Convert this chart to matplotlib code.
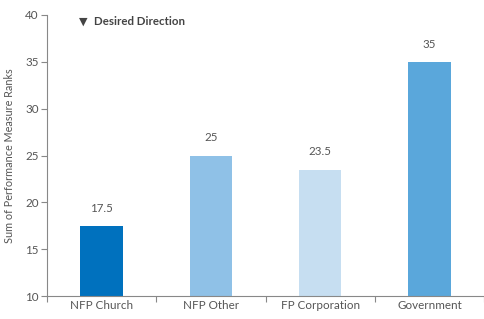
import matplotlib.pyplot as plt
import numpy as np

categories = ['NFP Church', 'NFP Other', 'FP Corporation', 'Government']
values = [17.5, 25, 23.5, 35]
value_labels = ['17.5', '25', '23.5', '35']
colors = ['#0071BE', '#8FC1E7', '#C6DEF1', '#5AA7DB']
yticks = [10, 15, 20, 25, 30, 35, 40]

plt.rcParams['font.family'] = ['Lato', 'DejaVu Sans']

fig = plt.figure(figsize=(4.85, 3.19), dpi=100)
ax = fig.add_axes([0.097, 0.072, 0.901, 0.881])

x = np.arange(len(categories))
bars = ax.bar(x, [v - 10 for v in values], bottom=10, width=0.39, color=colors)

for xi, v, lab in zip(x, values, value_labels):
    ax.text(xi, v + 1.3, lab, ha='center', va='bottom', fontsize=8.3, color='#555555')

ax.set_xlim(-0.5, len(categories) - 0.5)
ax.set_ylim(10, 40)
ax.set_yticks(yticks)
ax.set_yticklabels([str(t) for t in yticks])

ax.set_xticks(np.arange(-0.5, len(categories), 1.0))
ax.set_xticklabels([])
ax.set_xticks(x, minor=True)
ax.set_xticklabels(categories, minor=True)
ax.tick_params(axis='x', which='major', length=4, color='#888888', width=0.8)
ax.tick_params(axis='x', which='minor', length=0, labelsize=8.4, labelcolor='#555555', pad=3)
ax.tick_params(axis='y', length=4, color='#888888', width=0.8, labelsize=8.4, labelcolor='#555555', pad=2)

for s in ['top', 'right']:
    ax.spines[s].set_visible(False)
for s in ['left', 'bottom']:
    ax.spines[s].set_color('#888888')
    ax.spines[s].set_linewidth(0.8)

ax.set_ylabel('Sum of Performance Measure Ranks', fontsize=7.8, color='#555555', labelpad=7)

ax.text(0.082, 0.977, '\u25BC', transform=ax.transAxes, fontsize=8, color='#444444',
        ha='center', va='center', family='DejaVu Sans')
ax.text(0.107, 0.977, 'Desired Direction', transform=ax.transAxes, fontsize=8.3,
        color='#444444', fontweight='bold', ha='left', va='center')

plt.savefig('out.png', dpi=100)
